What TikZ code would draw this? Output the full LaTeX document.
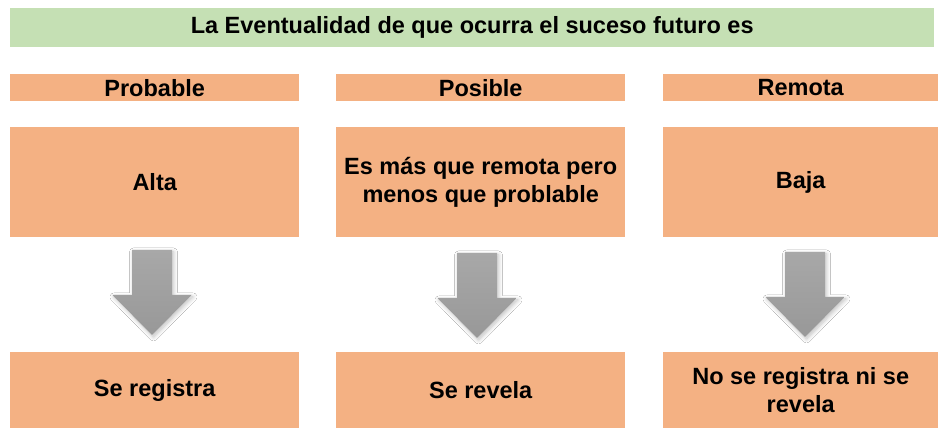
\documentclass[tikz,border=0pt]{standalone}
\usepackage{fontspec}
\setmainfont{Liberation Sans}
\usetikzlibrary{shadows.blur}
\definecolor{hdrgreen}{HTML}{C5E0B4}
\definecolor{boxorange}{HTML}{F4B183}
\definecolor{arrtop}{HTML}{A8A8A8}
\definecolor{arrbot}{HTML}{989898}
\tikzset{
  x=1pt,y=1pt,
  bar/.style={fill=#1, draw=none, inner sep=0pt, font=\bfseries\fontsize{23.5}{28}\selectfont, align=center, anchor=north west},
  blockarrow/.style={top color=arrtop, bottom color=arrbot, draw=none, blur shadow={shadow xshift=1.5pt, shadow yshift=-2pt, shadow blur radius=4pt, shadow blur steps=8, shadow opacity=25}},
}
\begin{document}
\begin{tikzpicture}
\useasboundingbox (0,0) rectangle (938,428);
\fill[white] (0,0) rectangle (938,428);
% title bar
\node[bar=hdrgreen, minimum width=924, minimum height=39] (title) at (10,420) {La Eventualidad de que ocurra el suceso futuro es};
% headers
\node[bar=boxorange, minimum width=289, minimum height=27] (h1) at (10,354) {Probable};
\node[bar=boxorange, minimum width=289, minimum height=27] (h2) at (336,354) {Posible};
\node[bar=boxorange, minimum width=275, minimum height=27] (h3) at (663,354) {Remota};
% middle boxes
\node[bar=boxorange, minimum width=289, minimum height=110] (m1) at (10,301) {Alta};
\node[bar=boxorange, minimum width=289, minimum height=110] (m2) at (336,301) {Es más que remota pero\\menos que problable};
\node[bar=boxorange, minimum width=275, minimum height=110] (m3) at (663,301) {Baja};
% bottom boxes
\node[bar=boxorange, minimum width=289, minimum height=76] (b1) at (10,76) {Se registra};
\node[bar=boxorange, minimum width=289, minimum height=76] (b2) at (336,76) {Se revela};
\node[bar=boxorange, minimum width=275, minimum height=76] (b3) at (663,76) {No se registra ni se\\revela};
% block arrows
\foreach \cx/\t in {152/178, 477/175, 805/176}{
  \path[blockarrow] (\cx-20,\t) -- (\cx+20,\t) -- (\cx+20,\t-45) -- (\cx+39.5,\t-45)
     -- (\cx,\t-85) -- (\cx-39.5,\t-45) -- (\cx-20,\t-45) -- cycle;
}
\end{tikzpicture}
\end{document}
